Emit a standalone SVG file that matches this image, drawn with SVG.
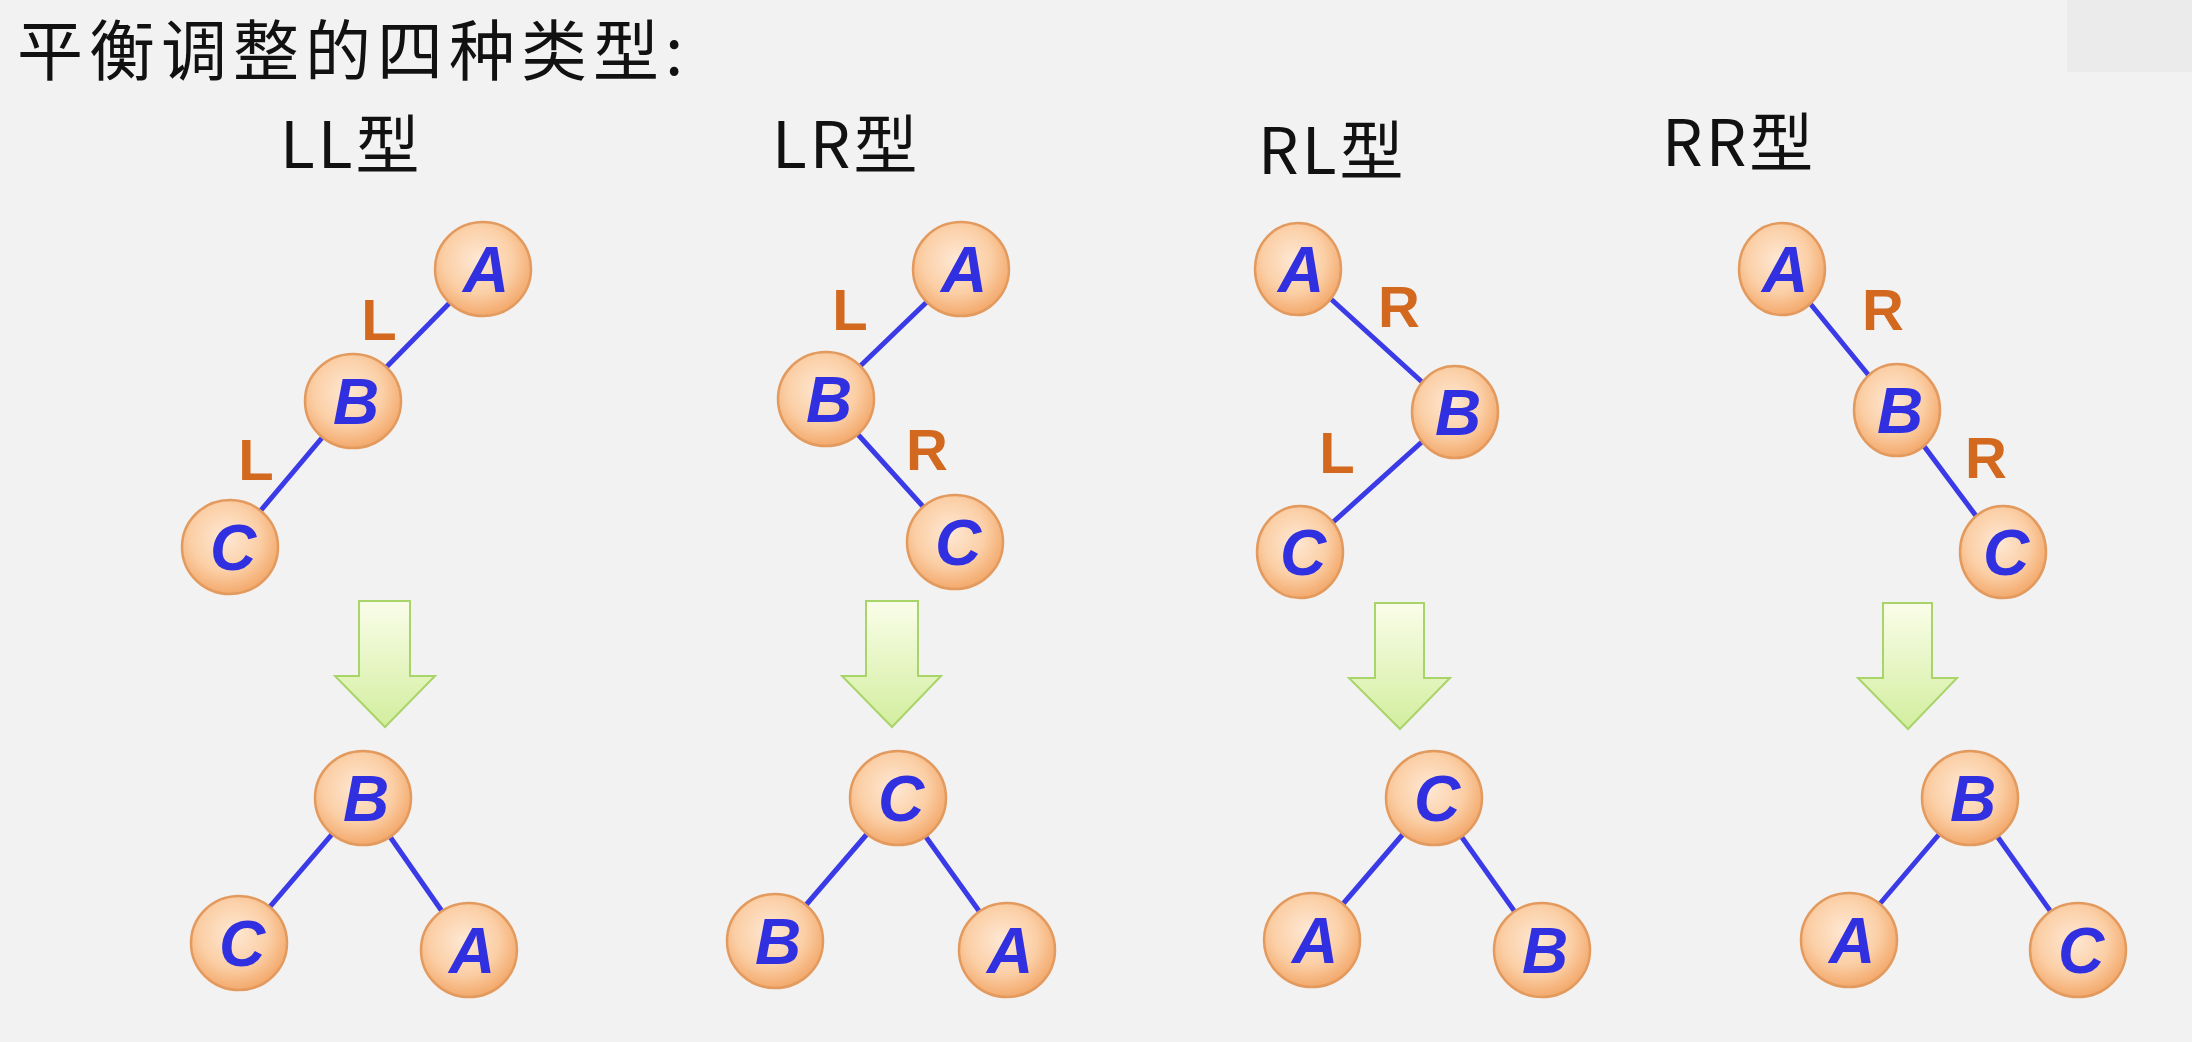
<svg xmlns="http://www.w3.org/2000/svg" width="2192" height="1042" viewBox="0 0 2192 1042">
<defs>
<radialGradient id="ng" cx="45%" cy="40%" r="60%"><stop offset="0" stop-color="#fee8d4"/><stop offset="0.6" stop-color="#fbcfa6"/><stop offset="1" stop-color="#f3a96c"/></radialGradient>
<linearGradient id="ag" x1="0" y1="0" x2="0" y2="1"><stop offset="0" stop-color="#fafde9"/><stop offset="1" stop-color="#d2ee9e"/></linearGradient>
<style>
.n ellipse{fill:url(#ng);stroke:#e39a5e;stroke-width:2.5}
.n text{font-family:"Liberation Sans",Arial,sans-serif;font-weight:bold;font-style:italic;font-size:64px;fill:#3030e0;text-anchor:middle}
.e line{stroke:#3a3ae6;stroke-width:5}
.el{font-family:"Liberation Sans",Arial,sans-serif;font-weight:bold;font-size:58px;fill:#d2691e;text-anchor:middle}
.h{font-family:"Noto Sans CJK SC","Noto Sans",sans-serif;font-size:64px;fill:#111;letter-spacing:3px}
.ar{fill:url(#ag);stroke:#a9d46a;stroke-width:2}
</style>
</defs>
<rect width="2192" height="1042" fill="#f3f2f2"/>
<rect x="2067" y="0" width="125" height="72" fill="#ebebeb"/>
<text class="h" x="17" y="75" style="font-size:66px;letter-spacing:6px">平衡调整的四种类型:</text>
<text class="h" x="280" y="168">LL型</text>
<text class="h" x="772" y="168">LR型</text>
<text class="h" x="1258" y="174">RL型</text>
<text class="h" x="1662" y="166">RR型</text>
<g id="connectors" class="e">
<line x1="483" y1="269" x2="353" y2="401"/><line x1="353" y1="401" x2="230" y2="547"/>
<line x1="363" y1="798" x2="239" y2="943"/><line x1="363" y1="798" x2="469" y2="950"/>
<line x1="961" y1="269" x2="826" y2="399"/><line x1="826" y1="399" x2="955" y2="542"/>
<line x1="898" y1="798" x2="775" y2="941"/><line x1="898" y1="798" x2="1007" y2="950"/>
<line x1="1298" y1="269" x2="1455" y2="412"/><line x1="1455" y1="412" x2="1300" y2="552"/>
<line x1="1434" y1="798" x2="1312" y2="940"/><line x1="1434" y1="798" x2="1542" y2="950"/>
<line x1="1782" y1="269" x2="1897" y2="410"/><line x1="1897" y1="410" x2="2003" y2="552"/>
<line x1="1970" y1="798" x2="1849" y2="940"/><line x1="1970" y1="798" x2="2078" y2="950"/>
</g>
<g id="edge-labels">
<text class="el" x="379" y="340">L</text><text class="el" x="256" y="480">L</text>
<text class="el" x="850" y="330">L</text><text class="el" x="927" y="470">R</text>
<text class="el" x="1399" y="327">R</text><text class="el" x="1337" y="473">L</text>
<text class="el" x="1883" y="330">R</text><text class="el" x="1986" y="478">R</text>
</g>
<g id="arrows">
<path class="ar" d="M359,601 H410 V676 H435 L385,727 L335,676 H359 Z"/>
<path class="ar" d="M866,601 H918 V676 H941 L892,727 L842,676 H866 Z"/>
<path class="ar" d="M1375,603 H1424 V678 H1450 L1400,729 L1349,678 H1375 Z"/>
<path class="ar" d="M1883,603 H1932 V678 H1957 L1908,729 L1858,678 H1883 Z"/>
</g>
<g id="LL-A" class="n"><ellipse cx="483" cy="269" rx="48" ry="47"/><text x="486" y="292">A</text></g>
<g id="LL-B" class="n"><ellipse cx="353" cy="401" rx="48" ry="47"/><text x="356" y="424">B</text></g>
<g id="LL-C" class="n"><ellipse cx="230" cy="547" rx="48" ry="47"/><text x="233" y="570">C</text></g>
<g id="LL-B2" class="n"><ellipse cx="363" cy="798" rx="48" ry="47"/><text x="366" y="821">B</text></g>
<g id="LL-C2" class="n"><ellipse cx="239" cy="943" rx="48" ry="47"/><text x="242" y="966">C</text></g>
<g id="LL-A2" class="n"><ellipse cx="469" cy="950" rx="48" ry="47"/><text x="472" y="973">A</text></g>
<g id="LR-A" class="n"><ellipse cx="961" cy="269" rx="48" ry="47"/><text x="964" y="292">A</text></g>
<g id="LR-B" class="n"><ellipse cx="826" cy="399" rx="48" ry="47"/><text x="829" y="422">B</text></g>
<g id="LR-C" class="n"><ellipse cx="955" cy="542" rx="48" ry="47"/><text x="958" y="565">C</text></g>
<g id="LR-C2" class="n"><ellipse cx="898" cy="798" rx="48" ry="47"/><text x="901" y="821">C</text></g>
<g id="LR-B2" class="n"><ellipse cx="775" cy="941" rx="48" ry="47"/><text x="778" y="964">B</text></g>
<g id="LR-A2" class="n"><ellipse cx="1007" cy="950" rx="48" ry="47"/><text x="1010" y="973">A</text></g>
<g id="RL-A" class="n"><ellipse cx="1298" cy="269" rx="43" ry="46"/><text x="1301" y="292">A</text></g>
<g id="RL-B" class="n"><ellipse cx="1455" cy="412" rx="43" ry="46"/><text x="1458" y="435">B</text></g>
<g id="RL-C" class="n"><ellipse cx="1300" cy="552" rx="43" ry="46"/><text x="1303" y="575">C</text></g>
<g id="RL-C2" class="n"><ellipse cx="1434" cy="798" rx="48" ry="47"/><text x="1437" y="821">C</text></g>
<g id="RL-A2" class="n"><ellipse cx="1312" cy="940" rx="48" ry="47"/><text x="1315" y="963">A</text></g>
<g id="RL-B2" class="n"><ellipse cx="1542" cy="950" rx="48" ry="47"/><text x="1545" y="973">B</text></g>
<g id="RR-A" class="n"><ellipse cx="1782" cy="269" rx="43" ry="46"/><text x="1785" y="292">A</text></g>
<g id="RR-B" class="n"><ellipse cx="1897" cy="410" rx="43" ry="46"/><text x="1900" y="433">B</text></g>
<g id="RR-C" class="n"><ellipse cx="2003" cy="552" rx="43" ry="46"/><text x="2006" y="575">C</text></g>
<g id="RR-B2" class="n"><ellipse cx="1970" cy="798" rx="48" ry="47"/><text x="1973" y="821">B</text></g>
<g id="RR-A2" class="n"><ellipse cx="1849" cy="940" rx="48" ry="47"/><text x="1852" y="963">A</text></g>
<g id="RR-C2" class="n"><ellipse cx="2078" cy="950" rx="48" ry="47"/><text x="2081" y="973">C</text></g>
</svg>
